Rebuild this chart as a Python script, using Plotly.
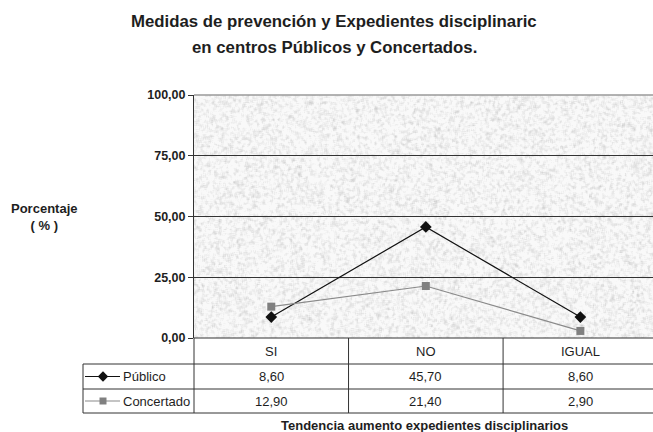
import base64
import struct
import zlib

import numpy as np
import plotly.graph_objects as go

# ---- data ---------------------------------------------------------------
categories = ["SI", "NO", "IGUAL"]
publico = [8.60, 45.70, 8.60]
concertado = [12.90, 21.40, 2.90]
series_names = ["Público", "Concertado"]
y_tick_vals = [0, 25, 50, 75, 100]
y_tick_text = ["0,00", "25,00", "50,00", "75,00", "100,00"]

title_lines = ["Medidas de prevención y Expedientes disciplinaric",
               "en centros Públicos y Concertados."]
y_title = "Porcentaje<br>( % )"
x_title = "Tendencia aumento expedientes disciplinarios"

# ---- geometry (pixels of the 653x432 canvas) ----------------------------
W, H = 653, 432
M_L, M_R, M_T, M_B = 80, 0, 95, 19
PW, PH = W - M_L - M_R, H - M_T - M_B          # paper size in px
PLOT_LEFT = 194                                 # left edge of the plot box
TABLE_TOP = 338                                 # y of the value 0 / table top
ROW_LINES = [364, 389, 413]                     # lower edges of table rows
KEY_LEFT = 83                                   # left border of the key column
X_RANGE = [-0.5, 2.47]

x_dom0 = (PLOT_LEFT - M_L) / PW
y_dom0 = (H - M_B - TABLE_TOP) / PH


def px_x(p):
    return (p - M_L) / PW


def px_y(p):
    return (H - M_B - p) / PH


def cat_x(c):
    """paper x of a category-axis position"""
    return x_dom0 + (c - X_RANGE[0]) / (X_RANGE[1] - X_RANGE[0]) * (1 - x_dom0)


def fmt(v):
    return f"{v:.2f}".replace(".", ",")


# ---- granite fill for the plot area -------------------------------------
def granite_png(w, h, seed=11):
    rng = np.random.default_rng(seed)
    n = rng.normal(0.0, 1.0, (h + 8, w + 8))
    k = np.ones(3) / 3.0
    n = np.apply_along_axis(lambda r: np.convolve(r, k, "same"), 1, n)
    n = np.apply_along_axis(lambda c: np.convolve(c, k, "same"), 0, n)
    n = n[4:-4, 4:-4]
    n = n / n.std()
    # mostly pale with darker grains
    img = np.clip(241 - 9 * np.maximum(n, -0.6) + 3, 200, 255).astype(np.uint8)
    raw = b"".join(b"\x00" + row.tobytes() for row in img)

    def chunk(tag, data):
        return (struct.pack(">I", len(data)) + tag + data
                + struct.pack(">I", zlib.crc32(tag + data) & 0xFFFFFFFF))

    png = (b"\x89PNG\r\n\x1a\n"
           + chunk(b"IHDR", struct.pack(">IIBBBBB", w, h, 8, 0, 0, 0, 0))
           + chunk(b"IDAT", zlib.compress(raw, 9))
           + chunk(b"IEND", b""))
    return "data:image/png;base64," + base64.b64encode(png).decode()


FONT = "Liberation Sans, Arial, sans-serif"
INK = "#1e1e1e"
LINE = "#333333"
GREY = "#808080"

fig = go.Figure()

# ---- series ---------------------------------------------------------------
fig.add_trace(go.Scatter(
    x=list(range(len(categories))), y=publico, name=series_names[0],
    mode="lines+markers", line=dict(color="#111111", width=1.2),
    marker=dict(symbol="diamond", size=9, color="#111111"),
    cliponaxis=False, showlegend=False))
fig.add_trace(go.Scatter(
    x=list(range(len(categories))), y=concertado, name=series_names[1],
    mode="lines+markers", line=dict(color="#8a8a8a", width=1.2),
    marker=dict(symbol="square", size=8, color=GREY),
    cliponaxis=False, showlegend=False))

# row centres of the two series rows, measured from the table top (px)
row_mid = [(ROW_LINES[0] + ROW_LINES[1]) / 2 - TABLE_TOP,
           (ROW_LINES[1] + ROW_LINES[2]) / 2 - TABLE_TOP]
header_mid = (TABLE_TOP + ROW_LINES[0]) / 2

# legend keys inside the data table (helper axes in pixel units)
key_styles = [
    (dict(color="#111111", width=1.2), dict(symbol="diamond", size=8, color="#111111")),
    (dict(color="#8a8a8a", width=1.2), dict(symbol="square", size=7, color=GREY)),
]
for (ln, mk), ym in zip(key_styles, row_mid):
    fig.add_trace(go.Scatter(x=[85 - M_L, 120 - M_L], y=[ym, ym], mode="lines",
                             line=ln, xaxis="x2", yaxis="y2", showlegend=False,
                             hoverinfo="skip"))
    fig.add_trace(go.Scatter(x=[103 - M_L], y=[ym], mode="markers", marker=mk,
                             xaxis="x2", yaxis="y2", showlegend=False,
                             hoverinfo="skip", cliponaxis=False))

# ---- table lines ----------------------------------------------------------
shapes = []


def hline(x0, x1, y, color=LINE, width=1):
    shapes.append(dict(type="line", xref="paper", yref="paper", x0=x0, x1=x1,
                       y0=y, y1=y, line=dict(color=color, width=width)))


def vline(x, y0, y1):
    shapes.append(dict(type="line", xref="paper", yref="paper", x0=x, x1=x,
                       y0=y0, y1=y1, line=dict(color=LINE, width=1)))


# pale top border of the plot box
hline(x_dom0, 1, 1, color="#9a9a9a", width=1.6)
hline(x_dom0, 1, y_dom0)
for r in ROW_LINES:
    hline(px_x(KEY_LEFT), 1, px_y(r))
vline(px_x(KEY_LEFT), px_y(ROW_LINES[2]), px_y(ROW_LINES[0]))
vline(x_dom0, px_y(ROW_LINES[2]), y_dom0)
for b in [0.5, 1.5]:
    vline(cat_x(b), px_y(ROW_LINES[2]), y_dom0)

# ---- table text -----------------------------------------------------------
annotations = []
cell_font = dict(family=FONT, size=13, color=INK)


def note(x, y, text, font, xanchor="center", **kw):
    annotations.append(dict(x=x, y=y, xref="paper", yref="paper", text=text,
                            showarrow=False, xanchor=xanchor, yanchor="middle",
                            font=font, **kw))


for i, c in enumerate(categories):
    note(cat_x(i), px_y(header_mid), c, cell_font)
    note(cat_x(i), px_y(TABLE_TOP + row_mid[0]), fmt(publico[i]), cell_font)
    note(cat_x(i), px_y(TABLE_TOP + row_mid[1]), fmt(concertado[i]), cell_font)
for name, ym in zip(series_names, row_mid):
    note(px_x(121), px_y(TABLE_TOP + ym), name, cell_font, xanchor="left")

# titles
for line, yy in zip(title_lines, [22, 48]):
    note(px_x(334), px_y(yy), f"<b>{line}</b>",
         dict(family=FONT, size=16.8, color=INK))
note(px_x(44), px_y(217), f"<b>{y_title}</b>",
     dict(family=FONT, size=13, color=INK), align="center")
note(px_x(424), px_y(425), f"<b>{x_title}</b>",
     dict(family=FONT, size=13, color=INK))

fig.update_layout(
    width=W, height=H,
    margin=dict(l=M_L, r=M_R, t=M_T, b=M_B, pad=0),
    paper_bgcolor="white",
    plot_bgcolor="rgba(0,0,0,0)",
    showlegend=False,
    xaxis=dict(domain=[x_dom0, 1], range=X_RANGE, showticklabels=False,
               showgrid=False, zeroline=False, showline=False, ticks="",
               fixedrange=True),
    yaxis=dict(domain=[y_dom0, 1], range=[0, 100], tickvals=y_tick_vals,
               ticktext=y_tick_text, ticks="outside", ticklen=5,
               tickcolor=LINE, showline=True, linecolor=LINE, linewidth=1,
               showgrid=True, gridcolor="#333333", gridwidth=1.4,
               zeroline=False,
               tickfont=dict(family=FONT, size=12.5, color=INK, weight="bold"),
               fixedrange=True),
    xaxis2=dict(domain=[0, x_dom0], range=[0, PLOT_LEFT - M_L], visible=False,
                anchor="y2", fixedrange=True),
    yaxis2=dict(domain=[0, y_dom0], range=[H - M_B - TABLE_TOP, 0],
                visible=False, anchor="x2", fixedrange=True),
    images=[dict(source=granite_png(int(round((1 - x_dom0) * PW)),
                                    int(round((1 - y_dom0) * PH))),
                 xref="paper", yref="paper", x=x_dom0, y=1,
                 sizex=1 - x_dom0, sizey=1 - y_dom0,
                 xanchor="left", yanchor="top", sizing="stretch",
                 layer="below")],
    shapes=shapes,
    annotations=annotations,
)

fig.write_html("out.html")
